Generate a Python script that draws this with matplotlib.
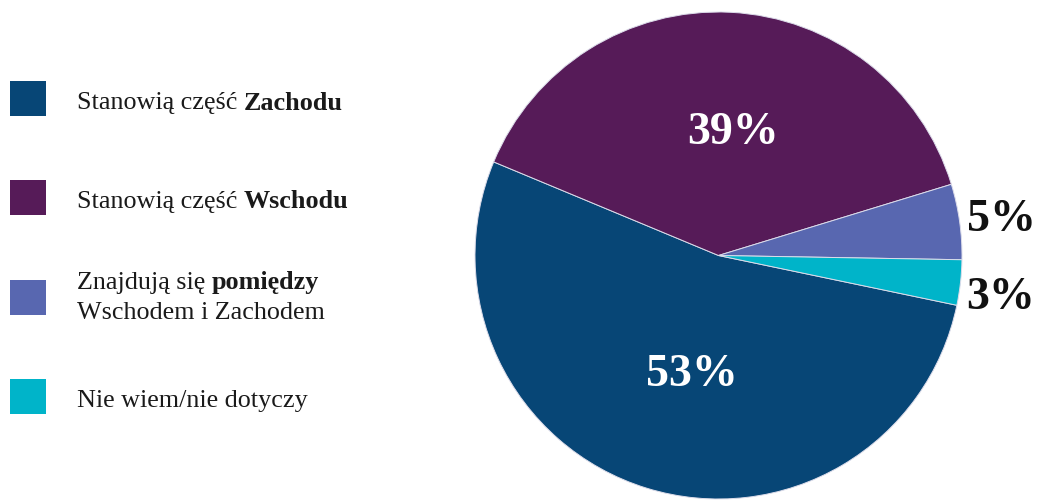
import matplotlib
matplotlib.use("Agg")
import matplotlib.pyplot as plt
from matplotlib.patches import Rectangle

# ---- data ----
values = [53, 39, 5, 3]
colors = ["#074676", "#561b58", "#5867b0", "#00b4c9"]
legend_normal = ["Stanowią część ", "Stanowią część ", "Znajdują się ", "Nie wiem/nie dotyczy"]
legend_bold = ["Zachodu", "Wschodu", "pomiędzy", ""]
legend_second = ["", "", "Wschodem i Zachodem", ""]

FONT = "Liberation Serif"
W, H = 1039, 500
fig = plt.figure(figsize=(W / 100, H / 100), dpi=100)
fig.patch.set_facecolor("white")

# pie axes: centre (718.5, 255.5) px, radius 243.5 px
cx, cy, r = 718.5, 255.5, 243.5
ax = fig.add_axes([(cx - r) / W, (H - cy - r) / H, 2 * r / W, 2 * r / H])
wedges, _ = ax.pie(values, colors=colors, startangle=348.2, counterclock=False,
                   radius=1, wedgeprops=dict(edgecolor="#dcdcea", linewidth=0.7))
ax.set_xlim(-1, 1)
ax.set_ylim(-1, 1)
ax.set_aspect("equal")
ax.axis("off")

# value labels
label_pos = [(-0.109, -0.49), (0.06, 0.505), (1.16, 0.145), (1.16, -0.175)]
label_col = ["white", "white", "#111111", "#111111"]
for v, (lx, ly), c in zip(values, label_pos, label_col):
    ax.text(lx, ly, f"{v}%", ha="center", va="center", color=c, fontsize=33,
            fontweight="bold", family=FONT, clip_on=False)

# legend (figure pixel coordinates)
lax = fig.add_axes([0, 0, 1, 1])
lax.set_xlim(0, W)
lax.set_ylim(H, 0)
lax.axis("off")
lax.patch.set_alpha(0)

sq_top = [81, 180, 280, 379]
text_y = [103, 202, 283, 401]
fig.canvas.draw()
renderer = fig.canvas.get_renderer()
fs = 18.8
for i in range(len(values)):
    lax.add_patch(Rectangle((10, sq_top[i]), 36, 35, facecolor=colors[i], edgecolor="none"))
    x0 = 77
    t = lax.text(x0, text_y[i], legend_normal[i], ha="left", va="center", fontsize=fs,
                 family=FONT, color="#1a1a1a")
    if legend_bold[i]:
        bb = t.get_window_extent(renderer=renderer)
        xb = lax.transData.inverted().transform((bb.x1, 0))[0]
        lax.text(xb, text_y[i], legend_bold[i], ha="left", va="center", fontsize=fs,
                 family=FONT, fontweight="bold", color="#1a1a1a")
    if legend_second[i]:
        lax.text(x0, text_y[i] + 30, legend_second[i], ha="left", va="center", fontsize=fs,
                 family=FONT, color="#1a1a1a")

fig.savefig("out.png", dpi=100, facecolor="white")
